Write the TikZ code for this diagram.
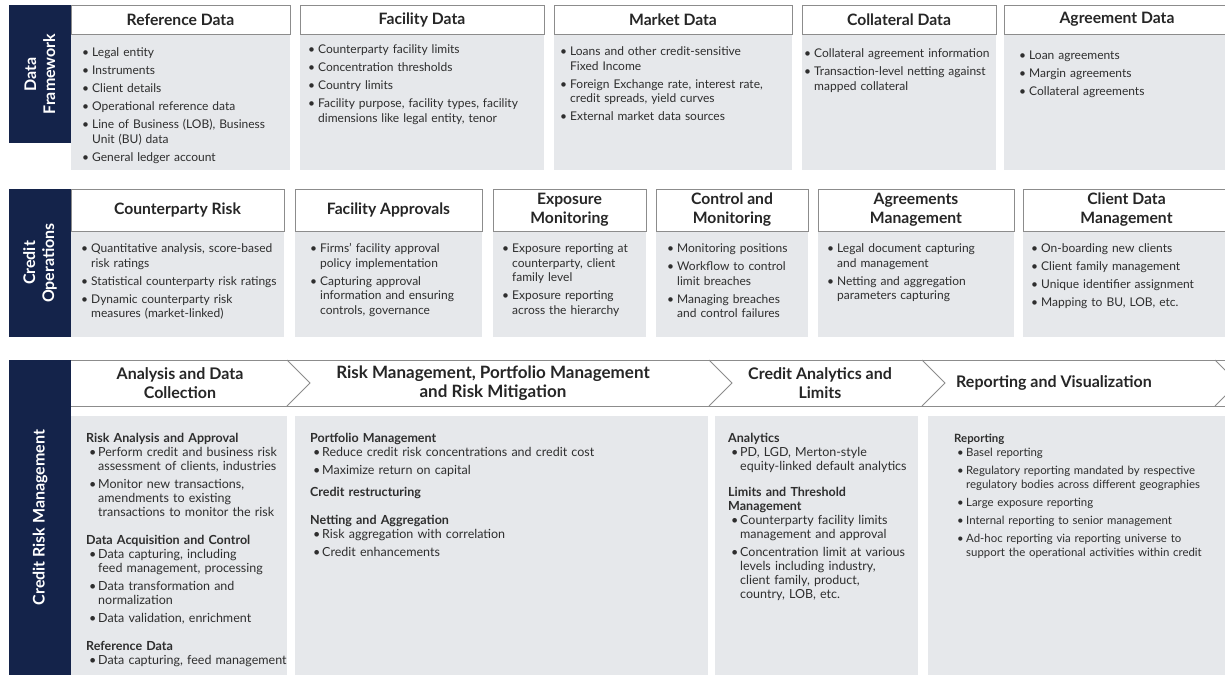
\documentclass[tikz,border=0pt]{standalone}
\usepackage{fontspec}
\setmainfont{Lato}
\usepackage{xcolor}
\usepackage{tikz}

\definecolor{navy}{HTML}{14234A}
\definecolor{panel}{HTML}{E6E8EB}
\definecolor{rule}{HTML}{8C8C8C}
\definecolor{ink}{HTML}{2E2E2E}

% list items and small bold headings inside the grey panels
\newcommand{\bul}[1]{\par\vspace{3.5pt}\hangindent=10pt\hangafter=1\noindent\makebox[10pt][l]{\textbullet}#1}
\newcommand{\sbul}[1]{\par\vspace{4pt}\hangindent=12pt\hangafter=1\noindent\hspace*{3pt}\makebox[9pt][l]{\textbullet}#1}
\newcommand{\firsthd}[1]{\par\noindent\textbf{#1}\par\vspace{-4pt}}
\newcommand{\subhd}[2][14pt]{\par\vspace{#1}\noindent\textbf{#2}\par\vspace{-4pt}}
\newcommand{\nohyph}{\hyphenpenalty=10000\relax}

\begin{document}
\begin{tikzpicture}[x=1pt,y=-1pt,
    side/.style={fill=navy,text=white,rotate=90,font=\fontsize{16}{19}\selectfont\bfseries,align=center,inner sep=0},
    hd/.style={draw=rule,line width=0.8pt,fill=white,text=black!85,font=\fontsize{15.7}{19}\selectfont\bfseries,align=center,inner sep=0},
    bandtxt/.style={text=black!85,font=\fontsize{16}{19}\selectfont\bfseries,align=center,inner sep=0},
    txt/.style={anchor=north west,inner sep=0,align=left,text=ink,font=\fontsize{12}{14.5}\selectfont\nohyph,text width=#1},
    txtb/.style={txt=#1,font=\fontsize{12.5}{14}\selectfont\nohyph}]
\useasboundingbox (0,0) rectangle (1225,675);

% ---- Data Framework
\node[side,minimum width=138pt,minimum height=62pt] (df) at (40,74) {Data\\Framework};

\fill[panel] (71,34) rectangle (290,170);
\fill[panel] (300,34) rectangle (544,170);
\fill[panel] (554,34) rectangle (792,170);
\fill[panel] (802,34) rectangle (996,170);
\fill[panel] (1004,34) rectangle (1230,170);

\node[hd,minimum width=219pt,minimum height=29pt] (refhd) at (180.5,19.5) {Reference Data};
\node[hd,minimum width=244pt,minimum height=29pt] (fachd) at (422,19.5) {Facility Data};
\node[hd,minimum width=238pt,minimum height=29pt] (mkthd) at (673,19.5) {Market Data};
\node[hd,minimum width=194pt,minimum height=29pt] (colhd) at (899,19.5) {Collateral Data};
\node[hd,minimum width=226pt,minimum height=29pt] (agrhd) at (1117,19.5) {Agreement Data};

\node[txt=204pt] (reftxt) at (82,38.5) {
  \bul{Legal entity}
  \bul{Instruments}
  \bul{Client details}
  \bul{Operational reference data}
  \bul{Line of Business (LOB), Business\newline Unit (BU) data}
  \bul{General ledger account}\par};
\node[txt=228pt] (factxt) at (308,35.5) {
  \bul{Counterparty facility limits}
  \bul{Concentration thresholds}
  \bul{Country limits}
  \bul{Facility purpose, facility types, facility\newline dimensions like legal entity, tenor}\par};
\node[txt=226pt] (mkttxt) at (560,37.5) {
  \bul{Loans and other credit-sensitive\newline Fixed Income}
  \bul{Foreign Exchange rate, interest rate,\newline credit spreads, yield curves}
  \bul{External market data sources}\par};
\node[txt=196pt] (coltxt) at (804,39.5) {
  \bul{Collateral agreement information}
  \bul{Transaction-level netting against\newline mapped collateral}\par};
\node[txt=190pt] (agrtxt) at (1019,41) {
  \bul{Loan agreements}
  \bul{Margin agreements}
  \bul{Collateral agreements}\par};

% ---- Credit Operations
\node[side,minimum width=148pt,minimum height=62pt] (co) at (40,263) {Credit\\Operations};

\fill[panel] (71,231) rectangle (284,337);
\fill[panel] (295,231) rectangle (482,337);
\fill[panel] (493,231) rectangle (646,337);
\fill[panel] (656,231) rectangle (808,337);
\fill[panel] (818,231) rectangle (1014,337);
\fill[panel] (1023,231) rectangle (1230,337);

\node[hd,minimum width=213pt,minimum height=42pt] (cprhd) at (177.5,210) {Counterparty Risk};
\node[hd,minimum width=187pt,minimum height=42pt] (apphd) at (388.5,210) {Facility Approvals};
\node[hd,minimum width=153pt,minimum height=42pt] (exphd) at (569.5,210) {Exposure\\Monitoring};
\node[hd,minimum width=152pt,minimum height=42pt] (ctlhd) at (732,210) {Control and\\Monitoring};
\node[hd,minimum width=196pt,minimum height=42pt] (agmhd) at (916,210) {Agreements\\Management};
\node[hd,minimum width=207pt,minimum height=42pt] (clihd) at (1126.5,210) {Client Data\\Management};

\node[txt=204pt] (cprtxt) at (81,234.5) {
  \bul{Quantitative analysis, score-based\newline risk ratings}
  \bul{Statistical counterparty risk ratings}
  \bul{Dynamic counterparty risk\newline measures (market-linked)}\par};
\node[txt=170pt] (apptxt) at (310,234.5) {
  \bul{Firms' facility approval\newline policy implementation}
  \bul{Capturing approval\newline information and ensuring\newline controls, governance}\par};
\node[txt=145pt] (exptxt) at (502,234.5) {
  \bul{Exposure reporting at\newline counterparty, client\newline family level}
  \bul{Exposure reporting\newline across the hierarchy}\par};
\node[txt=140pt] (ctltxt) at (667,234.5) {
  \bul{Monitoring positions}
  \bul{Workflow to control\newline limit breaches}
  \bul{Managing breaches\newline and control failures}\par};
\node[txt=186pt] (agmtxt) at (827,234.5) {
  \bul{Legal document capturing\newline and management}
  \bul{Netting and aggregation\newline parameters capturing}\par};
\node[txt=192pt] (clitxt) at (1031,234.5) {
  \bul{On-boarding new clients}
  \bul{Client family management}
  \bul{Unique identifier assignment}
  \bul{Mapping to BU, LOB, etc.}\par};

% ---- Credit Risk Management
\fill[panel] (71,416) rectangle (287,675);
\fill[panel] (295,416) rectangle (708,675);
\fill[panel] (715,416) rectangle (918,675);
\fill[panel] (928,416) rectangle (1230,675);

% chevron band
\draw[rule,line width=0.8pt,fill=white] (71,360) -- (1240,360) -- (1240,406) -- (71,406);
\foreach \x in {287,709,922,1215}
  \draw[rule,line width=0.8pt] (\x,360) -- (\x+23,383) -- (\x,406);

\node[side,minimum width=315pt,minimum height=62pt] (crm) at (40,517.5) {Credit Risk Management};

\node[bandtxt] (stage1) at (180,383) {Analysis and Data\\Collection};
\node[bandtxt,font=\fontsize{17}{19}\selectfont\bfseries] (stage2) at (493,383) {Risk Management, Portfolio Management\\and Risk Mitigation};
\node[bandtxt] (stage3) at (820,383) {Credit Analytics and\\Limits};
\node[bandtxt] (stage4) at (1054,383) {Reporting and Visualization};

\node[txtb=215pt] (anatxt) at (86,428) {
  \firsthd{Risk Analysis and Approval}
  \sbul{Perform credit and business risk\newline assessment of clients, industries}
  \sbul{Monitor new transactions,\newline amendments to existing\newline transactions to monitor the risk}
  \subhd{Data Acquisition and Control}
  \sbul{Data capturing, including\newline feed management, processing}
  \sbul{Data transformation and\newline normalization}
  \sbul{Data validation, enrichment}
  \subhd{Reference Data}
  \sbul{Data capturing, feed management}\par};
\node[txtb=390pt] (rsktxt) at (310,428) {
  \firsthd{Portfolio Management}
  \sbul{Reduce credit risk concentrations and credit cost}
  \sbul{Maximize return on capital}
  \subhd[8pt]{Credit restructuring}
  \subhd[18pt]{Netting and Aggregation}
  \sbul{Risk aggregation with correlation}
  \sbul{Credit enhancements}\par};
\node[txtb=200pt] (limtxt) at (728,428) {
  \firsthd{Analytics}
  \sbul{PD, LGD, Merton-style\newline equity-linked default analytics}
  \subhd[12pt]{Limits and Threshold\newline Management}
  \sbul{Counterparty facility limits\newline management and approval}
  \sbul{Concentration limit at various\newline levels including industry,\newline client family, product,\newline country, LOB, etc.}\par};
\node[txt=268pt,font=\fontsize{11.4}{14}\selectfont\nohyph] (reptxt) at (954,428) {
  \firsthd{Reporting}
  \sbul{Basel reporting}
  \sbul{Regulatory reporting mandated by respective\newline regulatory bodies across different geographies}
  \sbul{Large exposure reporting}
  \sbul{Internal reporting to senior management}
  \sbul{Ad-hoc reporting via reporting universe to\newline support the operational activities within credit}\par};
\end{tikzpicture}
\end{document}
